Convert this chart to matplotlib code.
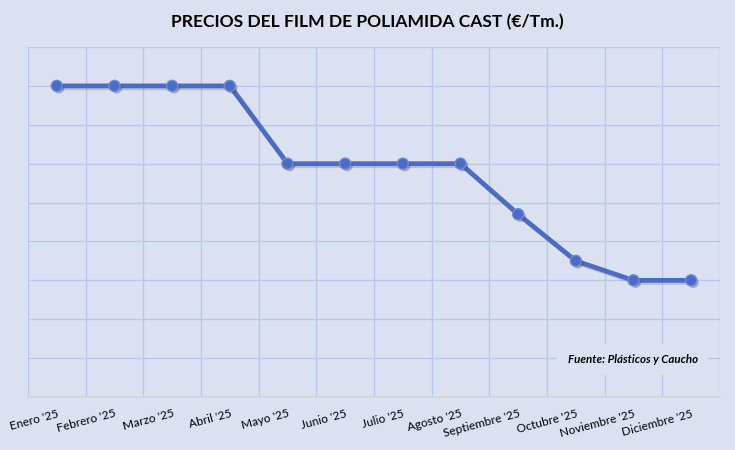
import matplotlib
matplotlib.use("Agg")
import matplotlib.pyplot as plt
import matplotlib.patheffects as pe
import numpy as np

months = ["Enero '25", "Febrero '25", "Marzo '25", "Abril '25", "Mayo '25", "Junio '25",
          "Julio '25", "Agosto '25", "Septiembre '25", "Octubre '25", "Noviembre '25", "Diciembre '25"]
prices = [3400, 3400, 3400, 3400, 3200, 3200, 3200, 3200, 3070, 2950, 2900, 2900]
y_min, y_max, y_step = 2600, 3500, 100

bg = "#DCE1F2"
grid_c = "#B7C8EA"
line_c = "#4A6CC6"

plt.rcParams['font.family'] = ['Lato', 'DejaVu Sans']

fig = plt.figure(figsize=(7.35, 4.5), dpi=100, facecolor=bg)
ax = fig.add_axes([28/735, 1-397/450, (720-28)/735, (397-47)/450])
ax.set_facecolor(bg)

n = len(months)
x = np.arange(n)
ax.set_xlim(-0.5, n-0.5)
ax.set_ylim(y_min, y_max)

# gridlines
for b in np.arange(-0.5, n, 1.0):
    ax.axvline(b, color=grid_c, lw=1.0, zorder=1)
for yv in np.arange(y_min, y_max + 1, y_step):
    ax.axhline(yv, color=grid_c, lw=1.0, zorder=1)

ax.plot(x, prices, color=line_c, lw=3.4, zorder=3, solid_capstyle='round',
        path_effects=[pe.SimpleLineShadow(offset=(1.5, -1.5), shadow_color='#555555', alpha=0.25),
                      pe.Normal()])
ax.plot(x, prices, 'o', color=line_c, ms=8, mec='#6F8BD8', mew=1.0, zorder=4,
        path_effects=[pe.SimplePatchShadow(offset=(1.5, -1.5), shadow_rgbFace='#444444', alpha=0.35),
                      pe.Normal()])

ax.set_yticks([])
ax.set_xticks(x)
ax.set_xticklabels(months, rotation=15, ha='right', rotation_mode='anchor', fontsize=8.6, color='black')
ax.tick_params(axis='x', length=0, pad=8)
for s in ['left', 'right', 'top']:
    ax.spines[s].set_visible(False)
ax.spines['bottom'].set_color('#D6D6D6')
ax.spines['bottom'].set_linewidth(1.2)
ax.spines['bottom'].set_zorder(2)

fig.text(0.5, 1-22/450, "PRECIOS DEL FILM DE POLIAMIDA CAST (€/Tm.)", ha='center', va='center',
         fontsize=12.6, fontweight='bold', color='black')

ax.text(0.968, 0.107, "Fuente: Plásticos y Caucho", transform=ax.transAxes, ha='right', va='center',
        fontsize=8.3, fontweight='bold', style='italic', color='black', zorder=6,
        bbox=dict(boxstyle='square,pad=0.9', facecolor=bg, edgecolor='none'))

fig.savefig("out.png", dpi=100, facecolor=bg)
